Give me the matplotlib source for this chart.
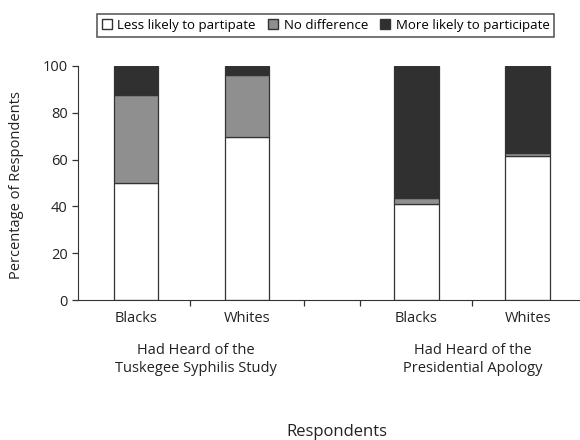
import numpy as np
import matplotlib.pyplot as plt
from matplotlib.patches import Patch

plt.rcParams['font.family'] = ['Open Sans', 'DejaVu Sans']

# Data (percent of respondents)
groups = ['Blacks', 'Whites', 'Blacks', 'Whites']
less_likely = [50, 69.5, 41, 61.5]
no_difference = [37.5, 26.7, 2.5, 1.2]
more_likely = [12.5, 3.8, 56.5, 37.3]
group_labels = ['Had Heard of the\nTuskegee Syphilis Study', 'Had Heard of the\nPresidential Apology']

x = np.array([0, 1, 2.52, 3.52])
width = 0.40
edge = '#333333'
txt = '#222222'

fig = plt.figure(figsize=(5.8, 4.4), dpi=100)
ax = fig.add_axes([78 / 580, 140 / 440, 502 / 580, 234 / 440])

ax.bar(x, less_likely, width, color='white', edgecolor=edge, linewidth=0.9)
ax.bar(x, no_difference, width, bottom=less_likely, color='#8f8f8f', edgecolor=edge, linewidth=0.9)
bottom3 = np.array(less_likely) + np.array(no_difference)
ax.bar(x, more_likely, width, bottom=bottom3, color='#303030', edgecolor=edge, linewidth=0.9)

ax.set_xlim(-0.52, 3.99)
ax.set_ylim(0, 100)
ax.set_yticks([0, 20, 40, 60, 80, 100])
ax.set_xticks([0.49, 1.51, 2.01, 3.02])
ax.set_xticklabels([])
ax.tick_params(axis='both', direction='out', length=4, width=0.9, colors='#333333',
               labelsize=10.5, labelcolor=txt)
ax.spines['top'].set_visible(False)
ax.spines['right'].set_visible(False)
ax.spines['left'].set_color('#333333')
ax.spines['bottom'].set_color('#333333')

for xi, g in zip(x, groups):
    ax.text(xi, -8, g, ha='center', va='center', fontsize=10.5, color=txt)

ax.text(0.5 + 0.04, -25.5, group_labels[0], ha='center', va='center', fontsize=10.5,
        color=txt, linespacing=1.25)
ax.text(3.02 + 0.01, -25.5, group_labels[1], ha='center', va='center', fontsize=10.5,
        color=txt, linespacing=1.25)

fig.text(337 / 580, 1 - 432 / 440, 'Respondents', ha='center', va='center', fontsize=12, color=txt)
fig.text(17 / 580, 1 - 185 / 440, 'Percentage of Respondents', rotation=90, ha='center', va='center',
         fontsize=10.5, color=txt)

handles = [Patch(facecolor='white', edgecolor=edge),
           Patch(facecolor='#8f8f8f', edgecolor=edge),
           Patch(facecolor='#303030', edgecolor=edge)]
labels = ['Less likely to partipate', 'No difference', 'More likely to participate']
leg = fig.legend(handles, labels, loc='center', bbox_to_anchor=(325.5 / 580, 1 - 25.5 / 440), ncol=3,
                 fontsize=9.5, frameon=True, fancybox=False, handlelength=0.8, handleheight=0.8,
                 handletextpad=0.4, columnspacing=0.9, borderpad=0.35, borderaxespad=0)
leg.get_frame().set_edgecolor('#333333')
leg.get_frame().set_linewidth(1.2)

fig.savefig('out.png', dpi=100)
